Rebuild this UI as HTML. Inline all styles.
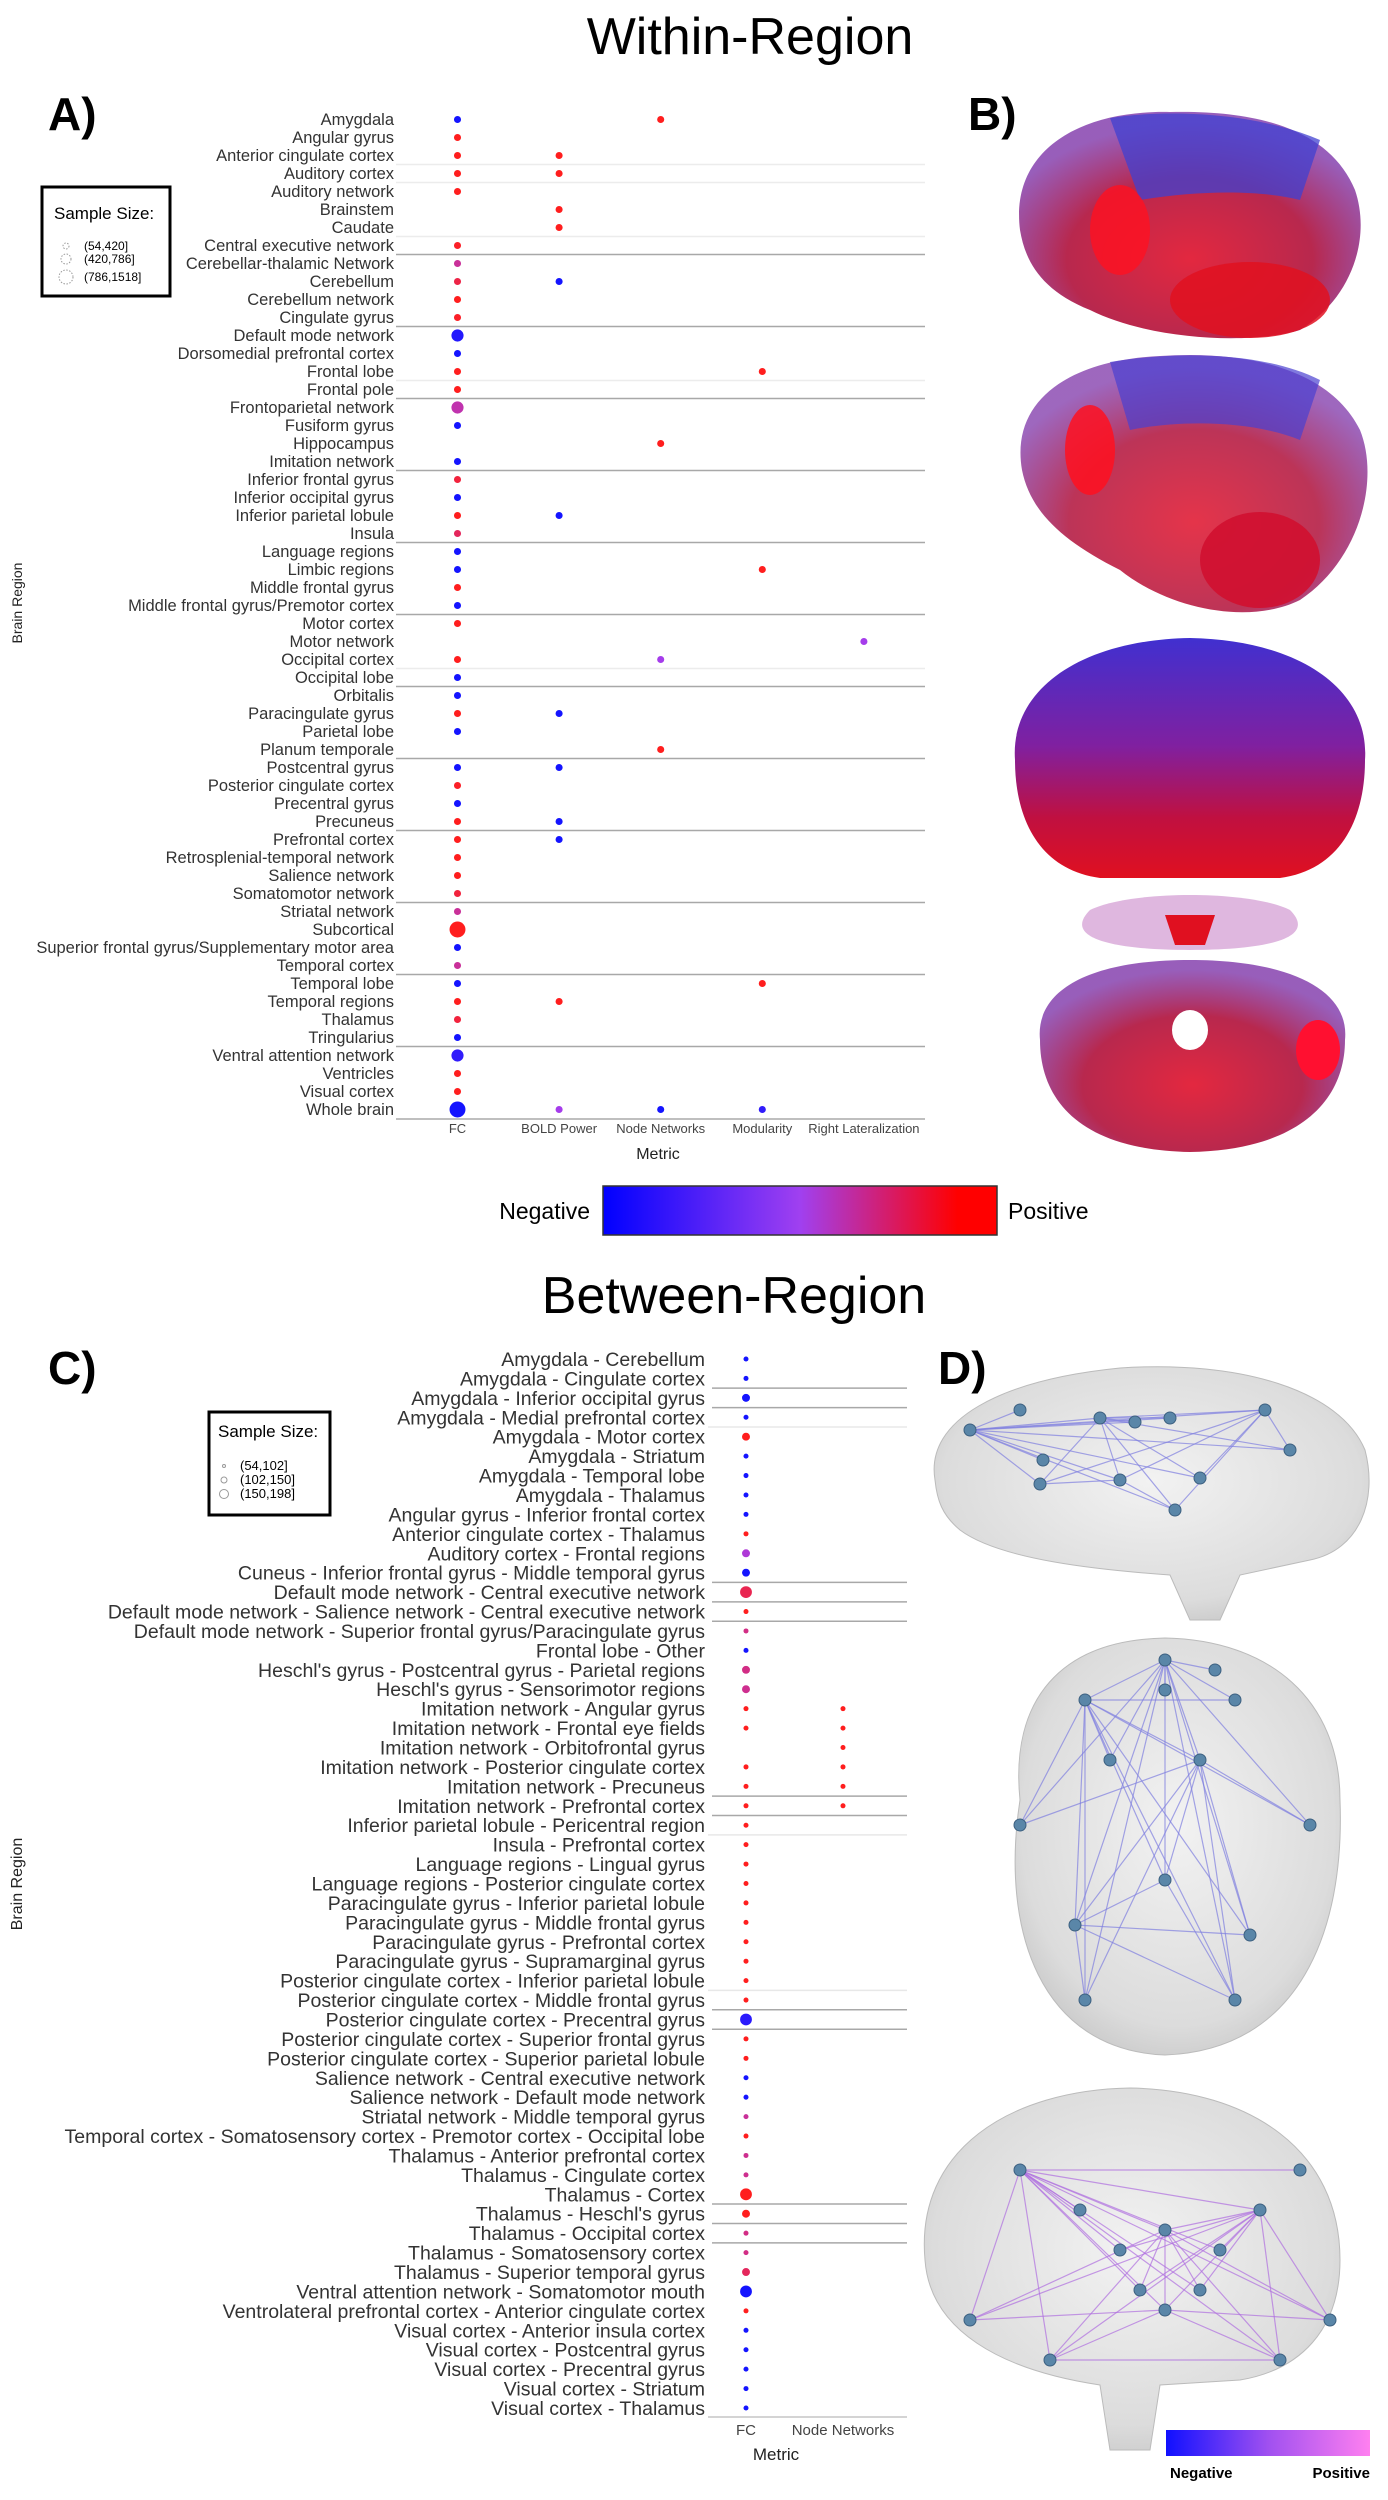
<!DOCTYPE html>
<html><head><meta charset="utf-8"><title>Within- and between-region brain findings</title>
<style>
html,body{margin:0;padding:0;background:#fff;}
svg{display:block;font-family:"Liberation Sans",Arial,sans-serif;}
</style></head>
<body>
<svg id="fig" width="1388" height="2500" viewBox="0 0 1388 2500" xmlns="http://www.w3.org/2000/svg">
<defs>
  <linearGradient id="cbarA" x1="0" x2="1" y1="0" y2="0">
    <stop offset="0" stop-color="#0000ff"/><stop offset="0.5" stop-color="#a040f0"/><stop offset="0.9" stop-color="#ff0000"/><stop offset="1" stop-color="#ff0000"/>
  </linearGradient>
  <linearGradient id="cbarD" x1="0" x2="1" y1="0" y2="0">
    <stop offset="0" stop-color="#1010ff"/><stop offset="0.5" stop-color="#a050f0"/><stop offset="1" stop-color="#ff80f0"/>
  </linearGradient>
  <radialGradient id="brainRed" cx="0.5" cy="0.65" r="0.6">
    <stop offset="0" stop-color="#e0102a"/><stop offset="0.6" stop-color="#b0103a"/><stop offset="1" stop-color="#7020a0" stop-opacity="0.8"/>
  </radialGradient>
  <linearGradient id="brainTop" x1="0" x2="0" y1="0" y2="1">
    <stop offset="0" stop-color="#4030d0"/><stop offset="0.45" stop-color="#8020a0"/><stop offset="0.75" stop-color="#c01040"/><stop offset="1" stop-color="#e01020"/>
  </linearGradient>
  <radialGradient id="glass" cx="0.5" cy="0.45" r="0.6">
    <stop offset="0" stop-color="#f2f2f2"/><stop offset="0.8" stop-color="#dcdcdc"/><stop offset="1" stop-color="#c8c8c8"/>
  </radialGradient>
</defs>

<text x="750" y="54" font-size="52" text-anchor="middle">Within-Region</text>
<text x="734" y="1313" font-size="52" text-anchor="middle">Between-Region</text>

<text x="48" y="130" font-size="46" font-weight="bold">A)</text>
<text x="968" y="130" font-size="46" font-weight="bold">B)</text>
<text x="48" y="1384" font-size="46" font-weight="bold">C)</text>
<text x="938" y="1384" font-size="46" font-weight="bold">D)</text>

<g id="chartA"></g>
<g id="chartC"></g>

<g>
  <rect x="42" y="187" width="128" height="109" fill="#fff" stroke="#000" stroke-width="3"/>
  <text x="54" y="219" font-size="17">Sample Size:</text>
  <circle cx="66" cy="246" r="3" fill="none" stroke="#999" stroke-dasharray="1.5,1.5"/>
  <circle cx="66" cy="259" r="5" fill="none" stroke="#999" stroke-dasharray="1.5,1.5"/>
  <circle cx="66" cy="277" r="7" fill="none" stroke="#999" stroke-dasharray="1.5,1.5"/>
  <text x="84" y="250" font-size="12">(54,420]</text>
  <text x="84" y="263" font-size="12">(420,786]</text>
  <text x="84" y="281" font-size="12">(786,1518]</text>
</g>

<g>
  <rect x="209" y="1412" width="121" height="103" fill="#fff" stroke="#000" stroke-width="3"/>
  <text x="218" y="1437" font-size="17">Sample Size:</text>
  <circle cx="224" cy="1466" r="1.5" fill="none" stroke="#999"/>
  <circle cx="224" cy="1480" r="3" fill="none" stroke="#999"/>
  <circle cx="224" cy="1494" r="4.5" fill="none" stroke="#999"/>
  <text x="240" y="1470" font-size="13">(54,102]</text>
  <text x="240" y="1484" font-size="13">(102,150]</text>
  <text x="240" y="1498" font-size="13">(150,198]</text>
</g>

<g>
  <rect x="603" y="1186" width="394" height="49" fill="url(#cbarA)" stroke="#333" stroke-width="1.5"/>
  <text x="590" y="1219" font-size="23" text-anchor="end">Negative</text>
  <text x="1008" y="1219" font-size="23">Positive</text>
</g>

<g>
  <g>
    <path d="M1020,230 C1010,150 1080,110 1170,112 C1260,110 1330,130 1355,190 C1372,240 1350,300 1300,330 C1250,345 1150,340 1090,310 C1040,290 1025,260 1020,230 Z" fill="url(#brainRed)" opacity="0.9"/>
    <path d="M1110,118 C1160,110 1250,110 1320,140 L1300,200 C1260,190 1200,190 1140,200 Z" fill="#4040d0" opacity="0.75"/>
    <ellipse cx="1250" cy="300" rx="80" ry="38" fill="#e01020" opacity="0.85"/>
    <ellipse cx="1120" cy="230" rx="30" ry="45" fill="#ff1020" opacity="0.8"/>
  </g>
  <g>
    <path d="M1022,470 C1010,400 1070,360 1160,356 C1250,350 1330,370 1360,430 C1380,480 1360,560 1300,600 C1250,625 1170,610 1120,570 C1060,540 1030,510 1022,470 Z" fill="url(#brainRed)" opacity="0.85"/>
    <path d="M1110,362 C1170,352 1260,350 1320,380 L1300,440 C1250,420 1180,420 1130,430 Z" fill="#4a40d0" opacity="0.7"/>
    <ellipse cx="1260" cy="560" rx="60" ry="48" fill="#d01030" opacity="0.9"/>
    <ellipse cx="1090" cy="450" rx="25" ry="45" fill="#ff1020" opacity="0.85"/>
  </g>
  <g>
    <path d="M1015,760 C1010,690 1080,640 1190,638 C1300,640 1370,690 1365,760 C1365,820 1340,870 1280,878 L1100,878 C1040,870 1015,820 1015,760 Z" fill="url(#brainTop)"/>
  </g>
  <g>
    <path d="M1090,910 C1130,890 1250,890 1290,910 C1320,940 1260,950 1190,950 C1120,950 1060,940 1090,910 Z" fill="#c070c0" opacity="0.5"/>
    <path d="M1165,915 L1215,915 L1205,945 L1175,945 Z" fill="#e01020"/>
    <path d="M1040,1040 C1035,990 1090,960 1190,960 C1290,960 1350,990 1345,1040 C1345,1100 1300,1150 1190,1152 C1080,1150 1040,1100 1040,1040 Z" fill="url(#brainRed)" opacity="0.9"/>
    <ellipse cx="1318" cy="1050" rx="22" ry="30" fill="#ff1030"/>
    <ellipse cx="1190" cy="1030" rx="18" ry="20" fill="#fff"/>
  </g>
</g>

<g id="panelD">
  <g>
    <path d="M935,1480 C925,1420 1000,1380 1120,1368 C1240,1360 1340,1390 1365,1450 C1378,1500 1360,1550 1310,1560 L1240,1575 L1220,1620 L1190,1620 L1170,1575 C1100,1570 1000,1560 960,1530 C942,1515 937,1500 935,1480 Z" fill="url(#glass)" stroke="#bbb"/>
  </g>
  <g>
    <path d="M1020,1800 C1010,1700 1060,1640 1165,1638 C1270,1640 1340,1700 1340,1800 C1345,1930 1300,2050 1165,2055 C1040,2050 1000,1930 1020,1800 Z" fill="url(#glass)" stroke="#bbb"/>
  </g>
  <g>
    <path d="M925,2260 C915,2150 1010,2090 1130,2088 C1250,2090 1340,2150 1340,2260 C1340,2330 1300,2370 1240,2380 L1160,2385 L1150,2450 L1110,2450 L1100,2385 C1000,2370 930,2330 925,2260 Z" fill="url(#glass)" stroke="#bbb"/>
  </g>
  <g id="dEdges"></g>
</g>

<g>
  <rect x="1166" y="2430" width="204" height="26" fill="url(#cbarD)"/>
  <text x="1170" y="2478" font-size="15" font-weight="bold">Negative</text>
  <text x="1370" y="2478" font-size="15" font-weight="bold" text-anchor="end">Positive</text>
</g>
</svg>

<script>
// ===== Panel A data =====
const regionsA = ["Amygdala","Angular gyrus","Anterior cingulate cortex","Auditory cortex","Auditory network","Brainstem","Caudate","Central executive network","Cerebellar-thalamic Network","Cerebellum","Cerebellum network","Cingulate gyrus","Default mode network","Dorsomedial prefrontal cortex","Frontal lobe","Frontal pole","Frontoparietal network","Fusiform gyrus","Hippocampus","Imitation network","Inferior frontal gyrus","Inferior occipital gyrus","Inferior parietal lobule","Insula","Language regions","Limbic regions","Middle frontal gyrus","Middle frontal gyrus/Premotor cortex","Motor cortex","Motor network","Occipital cortex","Occipital lobe","Orbitalis","Paracingulate gyrus","Parietal lobe","Planum temporale","Postcentral gyrus","Posterior cingulate cortex","Precentral gyrus","Precuneus","Prefrontal cortex","Retrosplenial-temporal network","Salience network","Somatomotor network","Striatal network","Subcortical","Superior frontal gyrus/Supplementary motor area","Temporal cortex","Temporal lobe","Temporal regions","Thalamus","Tringularius","Ventral attention network","Ventricles","Visual cortex","Whole brain"];
const metricsA = ["FC","BOLD Power","Node Networks","Modularity","Right Lateralization"];
const _ = null;
const fcEffectA = [-1,1,1,1,1,_,_,0.95,0.4,0.8,1,0.95,-0.9,-1,1,1,0.3,-1,_,-1,0.85,-1,1,0.7,-1,-1,1,-1,1,_,1,-1,-1,1,-1,_,-1,0.95,-1,1,1,1,1,0.85,0.4,1,-1,0.4,-1,1,0.85,-1,-0.8,1,1,-1];
const boldEffectA = [_,_,1,1,_,1,1,_,_,-1,_,_,_,_,_,_,_,_,_,_,_,_,-1,_,_,_,_,_,_,_,_,_,_,-1,_,_,-1,_,_,-1,-1,_,_,_,_,_,_,_,_,1,_,_,_,_,_,0];
const nodeEffectA = [1,_,_,_,_,_,_,_,_,_,_,_,_,_,_,_,_,_,1,_,_,_,_,_,_,_,_,_,_,_,0,_,_,_,_,1,_,_,_,_,_,_,_,_,_,_,_,_,_,_,_,_,_,_,_,-1];
const modEffectA = [_,_,_,_,_,_,_,_,_,_,_,_,_,_,1,_,_,_,_,_,_,_,_,_,_,1,_,_,_,_,_,_,_,_,_,_,_,_,_,_,_,_,_,_,_,_,_,_,1,_,_,_,_,_,_,-0.8];
const latEffectA = [_,_,_,_,_,_,_,_,_,_,_,_,_,_,_,_,_,_,_,_,_,_,_,_,_,_,_,_,_,0,_,_,_,_,_,_,_,_,_,_,_,_,_,_,_,_,_,_,_,_,_,_,_,_,_,_];
const fcSampleA = [100,100,100,100,100,_,_,100,100,100,100,100,700,100,100,100,700,100,_,100,100,100,100,100,100,100,100,100,100,_,100,100,100,100,100,_,100,100,100,100,100,100,100,100,100,1500,100,100,100,100,100,100,700,100,100,1500];
const otherSampleA = 100;

// ===== Panel C data =====
const pairsC = ["Amygdala - Cerebellum","Amygdala - Cingulate cortex","Amygdala - Inferior occipital gyrus","Amygdala - Medial prefrontal cortex","Amygdala - Motor cortex","Amygdala - Striatum","Amygdala - Temporal lobe","Amygdala - Thalamus","Angular gyrus - Inferior frontal cortex","Anterior cingulate cortex - Thalamus","Auditory cortex - Frontal regions","Cuneus - Inferior frontal gyrus - Middle temporal gyrus","Default mode network - Central executive network","Default mode network - Salience network - Central executive network","Default mode network - Superior frontal gyrus/Paracingulate gyrus","Frontal lobe - Other","Heschl's gyrus - Postcentral gyrus - Parietal regions","Heschl's gyrus - Sensorimotor regions","Imitation network - Angular gyrus","Imitation network - Frontal eye fields","Imitation network - Orbitofrontal gyrus","Imitation network - Posterior cingulate cortex","Imitation network - Precuneus","Imitation network - Prefrontal cortex","Inferior parietal lobule - Pericentral region","Insula - Prefrontal cortex","Language regions - Lingual gyrus","Language regions - Posterior cingulate cortex","Paracingulate gyrus - Inferior parietal lobule","Paracingulate gyrus - Middle frontal gyrus","Paracingulate gyrus - Prefrontal cortex","Paracingulate gyrus - Supramarginal gyrus","Posterior cingulate cortex - Inferior parietal lobule","Posterior cingulate cortex - Middle frontal gyrus","Posterior cingulate cortex - Precentral gyrus","Posterior cingulate cortex - Superior frontal gyrus","Posterior cingulate cortex - Superior parietal lobule","Salience network - Central executive network","Salience network - Default mode network","Striatal network - Middle temporal gyrus","Temporal cortex - Somatosensory cortex - Premotor cortex - Occipital lobe","Thalamus - Anterior prefrontal cortex","Thalamus - Cingulate cortex","Thalamus - Cortex","Thalamus - Heschl's gyrus","Thalamus - Occipital cortex","Thalamus - Somatosensory cortex","Thalamus - Superior temporal gyrus","Ventral attention network - Somatomotor mouth","Ventrolateral prefrontal cortex - Anterior cingulate cortex","Visual cortex - Anterior insula cortex","Visual cortex - Postcentral gyrus","Visual cortex - Precentral gyrus","Visual cortex - Striatum","Visual cortex - Thalamus"];
const metricsC = ["FC","Node Networks"];
const fcEffectC = [-1,-1,-1,-1,1,-1,-1,-1,-1,1,0.1,-1,0.75,1,0.5,-1,0.5,0.45,1,1,_,1,1,1,1,1,1,1,1,1,1,1,1,1,-0.85,1,1,-1,-1,0.4,1,0.45,0.45,1,1,0.5,0.5,0.7,-1,1,-1,-1,-1,-1,-1];
const fcSampleC = [10,10,60,10,60,10,10,10,10,10,60,60,190,10,10,10,60,60,10,10,_,10,10,10,10,10,10,10,10,10,10,10,10,10,190,10,10,10,10,10,10,10,10,190,60,10,10,60,190,10,10,10,10,10,10];
const nodeEffectC = [_,_,_,_,_,_,_,_,_,_,_,_,_,_,_,_,_,_,1,1,1,1,1,1,_,_,_,_,_,_,_,_,_,_,_,_,_,_,_,_,_,_,_,_,_,_,_,_,_,_,_,_,_,_,_];
const nodeSampleC = 10;

const NS="http://www.w3.org/2000/svg";
function mk(tag, attrs, parent){const e=document.createElementNS(NS,tag);for(const k in attrs)e.setAttribute(k,attrs[k]);parent.appendChild(e);return e;}
function lerp(a,b,t){return Math.round(a+(b-a)*t);}
function colorScale(v){
  const blue=[20,20,255], purple=[165,60,235], red=[255,30,30];
  let a,b,t;
  if(v<=0){a=blue;b=purple;t=v+1;}else{a=purple;b=red;t=v;}
  return "rgb("+lerp(a[0],b[0],t)+","+lerp(a[1],b[1],t)+","+lerp(a[2],b[2],t)+")";
}

(function(){
  const g=document.getElementById('chartA');
  const yTop=119.5, yBot=1109.5;
  const yScale=i=>yTop+(yBot-yTop)*i/(regionsA.length-1);
  const xScale=j=>457.5+101.6*j;
  const rScale=n=>2+6*Math.sqrt(n/1518);
  const plotL=396, plotR=925;
  const step=(yBot-yTop)/(regionsA.length-1);
  [2,3,6,14,30].forEach(i=>{
    const l=mk('line',{x1:plotL,x2:plotR,y1:yScale(i)+step/2,y2:yScale(i)+step/2,stroke:'#ececec','stroke-width':1.5},g);
    
    
  });
  for(let i=7;i<regionsA.length-1;i+=4){
    const l=mk('line',{x1:plotL,x2:plotR,y1:yScale(i)+step/2,y2:yScale(i)+step/2,stroke:'#a8a8a8','stroke-width':1.5},g);
    
    
  }
  const ax=mk('line',{x1:plotL,x2:plotR,y1:1119,y2:1119,stroke:'#999','stroke-width':1.2},g);
  
  
  regionsA.forEach((r,i)=>{
    const t=mk('text',{x:394,y:yScale(i)+5.5,'font-size':16.5,'text-anchor':'end',fill:'#333'},g);
    t.textContent=r;
    
    
  });
  metricsA.forEach((m,j)=>{
    const t=mk('text',{x:xScale(j),y:1133,'font-size':13,'text-anchor':'middle',fill:'#444'},g);
    t.textContent=m;
    
    
  });
  const xt=mk('text',{x:658,y:1159,'font-size':16,'text-anchor':'middle',fill:'#222'},g);
  xt.textContent='Metric';
  
  
  const yt=mk('text',{x:0,y:0,'font-size':14,'text-anchor':'middle',fill:'#222',transform:'translate(22,603) rotate(-90)'},g);
  yt.textContent='Brain Region';
  
  
  const series=[fcEffectA,boldEffectA,nodeEffectA,modEffectA,latEffectA];
  series.forEach((arr,j)=>{
    arr.forEach((v,i)=>{
      if(v===null||v===undefined)return;
      const n=(j===0 && fcSampleA[i]!==null)?fcSampleA[i]:otherSampleA;
      const c=mk('circle',{cx:xScale(j),cy:yScale(i),r:rScale(n),fill:colorScale(v)},g);
      
      
    });
  });
})();

(function(){
  const g=document.getElementById('chartC');
  const yTop=1359, yBot=2408;
  const yScale=i=>yTop+(yBot-yTop)*i/(pairsC.length-1);
  const step=(yBot-yTop)/(pairsC.length-1);
  const xScale=j=>746+97*j;
  const rScale=n=>1.5+4.5*Math.sqrt(n/198);
  const plotL=708, plotR=907;
  [3,24,32].forEach(i=>{
    const l=mk('line',{x1:plotL,x2:plotR,y1:yScale(i)+step/2,y2:yScale(i)+step/2,stroke:'#e8e8e8','stroke-width':1.5},g);
    
    
  });
  [1,2,11,12,13,22,23,33,34,43,44,45].forEach(i=>{
    const l=mk('line',{x1:plotL+4,x2:plotR,y1:yScale(i)+step/2,y2:yScale(i)+step/2,stroke:'#a8a8a8','stroke-width':1.5},g);
    
    
  });
  const ax=mk('line',{x1:plotL,x2:plotR,y1:2417,y2:2417,stroke:'#bbb','stroke-width':1.2},g);
  
  
  pairsC.forEach((r,i)=>{
    const t=mk('text',{x:705,y:yScale(i)+7,'font-size':19.5,'text-anchor':'end',fill:'#333'},g);
    t.textContent=r;
    
    
  });
  metricsC.forEach((m,j)=>{
    const t=mk('text',{x:xScale(j),y:2435,'font-size':15,'text-anchor':'middle',fill:'#444'},g);
    t.textContent=m;
    
    
  });
  const xt=mk('text',{x:776,y:2460,'font-size':17,'text-anchor':'middle',fill:'#222'},g);
  xt.textContent='Metric';
  
  
  const yt=mk('text',{x:0,y:0,'font-size':16,'text-anchor':'middle',fill:'#222',transform:'translate(22,1884) rotate(-90)'},g);
  yt.textContent='Brain Region';
  
  
  fcEffectC.forEach((v,i)=>{
    if(v===null)return;
    const c=mk('circle',{cx:xScale(0),cy:yScale(i),r:rScale(fcSampleC[i]),fill:colorScale(v)},g);
    
    
  });
  nodeEffectC.forEach((v,i)=>{
    if(v===null)return;
    const c=mk('circle',{cx:xScale(1),cy:yScale(i),r:rScale(nodeSampleC),fill:colorScale(v)},g);
    
    
  });
})();

(function(){
  const g=document.getElementById('dEdges');
  const brains=[
    [[970,1430],[1043,1460],[1020,1410],[1100,1418],[1135,1422],[1170,1418],[1265,1410],[1290,1450],[1200,1478],[1120,1480],[1040,1484],[1175,1510]],
    [[1165,1660],[1215,1670],[1165,1690],[1085,1700],[1235,1700],[1110,1760],[1200,1760],[1020,1825],[1310,1825],[1075,1925],[1250,1935],[1085,2000],[1235,2000],[1165,1880]],
    [[1020,2170],[1300,2170],[1080,2210],[1260,2210],[1120,2250],[1220,2250],[1165,2230],[1140,2290],[1200,2290],[1165,2310],[970,2320],[1330,2320],[1050,2360],[1280,2360]]
  ];
  brains.forEach((nodes,bi)=>{
    for(let a=0;a<nodes.length;a++){
      for(let b=a+1;b<nodes.length;b++){
        if((a*7+b*3)%3===0){
          const l=mk('line',{x1:nodes[a][0],y1:nodes[a][1],x2:nodes[b][0],y2:nodes[b][1],stroke:(bi===2?'#b070e0':'#8080e0'),'stroke-width':1.2,opacity:0.7},g);
          
          
        }
      }
    }
    nodes.forEach(n=>{
      const c=mk('circle',{cx:n[0],cy:n[1],r:6,fill:'#5a86a8',stroke:'#3c6080','stroke-width':1},g);
      
      
    });
  });
})();
</script>
</body></html>
